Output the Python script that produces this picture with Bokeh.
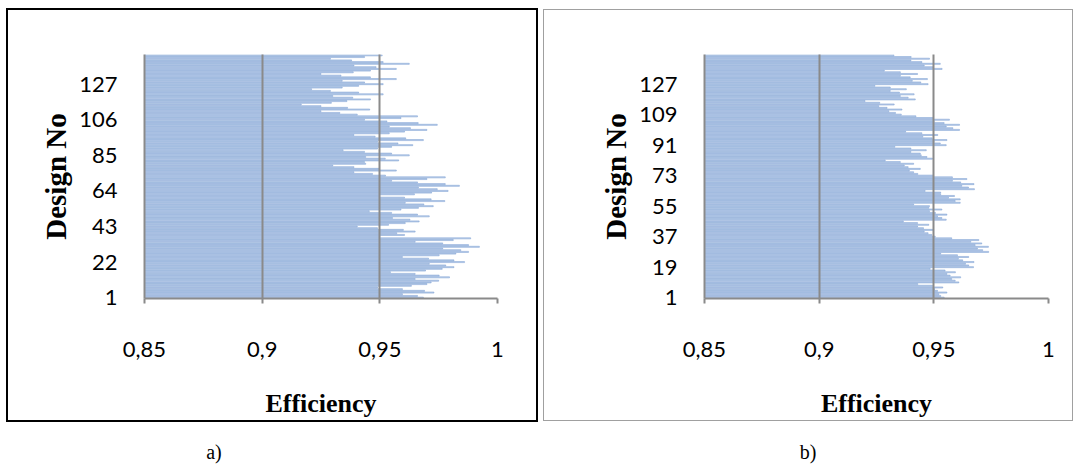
from bokeh.plotting import figure
from bokeh.layouts import row, column
from bokeh.models import FixedTicker, CustomJSTickFormatter, Range1d, Div
from bokeh.embed import file_html
from bokeh.resources import INLINE

# ---------------- data ----------------
# Panel a) efficiency per design (design 144) down to design 1
eff_a_top_down = [
    0.951, 0.9435, 0.929, 0.938, 0.9514, 0.9625, 0.939, 0.9484, 0.957, 0.946,
    0.9387, 0.925, 0.9335, 0.946, 0.957, 0.934, 0.9435, 0.9514, 0.941, 0.934,
    0.921, 0.929, 0.941, 0.9514, 0.930, 0.9385, 0.946, 0.936,
    0.9294, 0.9166, 0.925, 0.9363, 0.9457, 0.925, 0.933, 0.9404, 0.966, 0.959,
    0.9435, 0.953, 0.9663, 0.9744, 0.954, 0.963, 0.970, 0.9605, 0.954, 0.939,
    0.948, 0.961, 0.9685, 0.949, 0.9577, 0.964, 0.955, 0.949, 0.9344, 0.9435,
    0.955, 0.9625, 0.944, 0.9523, 0.958, 0.9435, 0.944, 0.930, 0.939, 0.9496,
    0.957, 0.939, 0.9469, 0.9524, 0.9778, 0.970, 0.955, 0.966, 0.9778, 0.9838,
    0.9664, 0.9744, 0.979, 0.972, 0.9647, 0.95, 0.9605, 0.9718, 0.9776,
    0.9608, 0.9687, 0.9727, 0.9664, 0.959, 0.9455, 0.955, 0.966, 0.971, 0.9554,
    0.9628, 0.9667, 0.9608, 0.9537, 0.9404, 0.949, 0.960, 0.965, 0.9572, 0.9605,
    0.95, 0.9886, 0.9812, 0.965, 0.9767, 0.9877, 0.9923, 0.9767, 0.9844, 0.9877,
    0.9823, 0.9752, 0.9596, 0.9707, 0.9815, 0.986, 0.971, 0.978, 0.9815, 0.9765,
    0.9694, 0.9545, 0.965, 0.9752, 0.9796, 0.965, 0.975, 0.9718, 0.970, 0.9634,
    0.949, 0.9596, 0.969, 0.973, 0.9596, 0.966, 0.9685,
]

# Panel b) efficiency per design, read from the top bar down to design 1
eff_b_top_down = [
    0.9326, 0.9401, 0.9481, 0.940, 0.9448, 0.9528, 0.9458, 0.9496, 0.9536, 0.9284,
    0.9354, 0.9429, 0.9354, 0.9397, 0.9472, 0.9406, 0.9443, 0.9475, 0.9243, 0.931,
    0.938, 0.931, 0.935, 0.9414, 0.9354, 0.9388, 0.9419, 0.920,
    0.9264, 0.9327, 0.926, 0.9296, 0.9361, 0.9304, 0.9333, 0.9358, 0.9422, 0.9496,
    0.9568, 0.9501, 0.9545, 0.9612, 0.9554, 0.9583, 0.9612, 0.9377, 0.9448, 0.9517,
    0.9452, 0.9493, 0.9557, 0.9501, 0.9528, 0.9554, 0.933, 0.940, 0.9467,
    0.940, 0.9441, 0.9445, 0.947, 0.9494, 0.9288, 0.9354, 0.9412, 0.9371, 0.9388,
    0.9441,
    0.9393, 0.9412, 0.943, 0.9499, 0.9581, 0.9644, 0.9581, 0.9617, 0.9675, 0.9622,
    0.9651, 0.9677, 0.9462, 0.953, 0.953, 0.959, 0.9564, 0.9615, 0.9593, 0.9615,
    0.9412, 0.9481, 0.9478, 0.9535, 0.9481, 0.9507, 0.9557, 0.9516, 0.9535, 0.9554,
    0.9367, 0.9429, 0.9478, 0.9429, 0.9455, 0.9499, 0.9458, 0.9475, 0.9491, 0.9506,
    0.9578, 0.9696, 0.9661, 0.9709, 0.968, 0.9738, 0.969, 0.9713, 0.9739, 0.953,
    0.9603, 0.9652, 0.9607, 0.9626, 0.9675, 0.9638, 0.9652, 0.9673, 0.9484, 0.9549,
    0.9594, 0.9557, 0.9571, 0.9617, 0.9578, 0.9593, 0.9609, 0.943, 0.9494, 0.9539,
    0.9503, 0.9516, 0.9557, 0.9522, 0.953, 0.9545,
]

eff_a = eff_a_top_down[::-1]
eff_b = eff_b_top_down[::-1]
design_a = list(range(1, len(eff_a) + 1))
design_b = list(range(1, len(eff_b) + 1))

y_ticks_a = [1, 22, 43, 64, 85, 106, 127]
y_ticks_b = [1, 19, 37, 55, 73, 91, 109, 127]
x_ticks = [0.85, 0.9, 0.95, 1.0]
grid_a = [0.9, 0.95, 1.0]
grid_b = [0.9, 0.95]
x_title = "Efficiency"
y_title = "Design No"
captions = ["a)", "b)"]

# ---------------- styling ----------------
BAR_FILL = "#c3d4ec"
BAR_LINE = "#7c9fd3"
GRID = "#8a8a8a"
TICK_FONT = "Lato"
TITLE_FONT = "Liberation Serif"


def panel(designs, effs, y_ticks, grid_ticks, ml, mr, mt, mb, margin, outline):
    n = len(designs)
    p = figure(width=528, height=410, output_backend="svg", toolbar_location=None,
               x_range=Range1d(0.85, 1.0), y_range=Range1d(0.5, n + 0.5),
               min_border_left=ml, min_border_right=mr,
               min_border_top=mt, min_border_bottom=mb)
    p.margin = margin
    p.styles = {"outline": outline, "outline-offset": "0px"}
    p.outline_line_color = None
    p.background_fill_color = "white"
    p.border_fill_color = "white"

    p.hbar(y=designs, left=0.85, right=effs, height=0.62,
           fill_color=BAR_FILL, line_color=BAR_LINE, line_width=0.55)

    p.ygrid.visible = False
    p.xgrid.ticker = FixedTicker(ticks=grid_ticks)
    p.xgrid.grid_line_color = GRID
    p.xgrid.grid_line_width = 2
    p.xgrid.level = "overlay"

    xa = p.xaxis[0]
    xa.ticker = FixedTicker(ticks=x_ticks)
    xa.formatter = CustomJSTickFormatter(code="return tick.toString().replace('.', ',');")
    xa.axis_line_color = GRID
    xa.axis_line_width = 2
    xa.major_tick_line_color = GRID
    xa.major_tick_line_width = 2
    xa.major_tick_out = 5
    xa.major_tick_in = 0
    xa.minor_tick_line_color = None
    xa.major_label_text_font = TICK_FONT
    xa.major_label_text_font_size = "22px"
    xa.major_label_text_color = "black"
    xa.major_label_standoff = 38
    xa.axis_label = x_title
    xa.axis_label_text_font = TITLE_FONT
    xa.axis_label_text_font_style = "bold"
    xa.axis_label_text_font_size = "26px"
    xa.axis_label_text_color = "black"
    xa.axis_label_standoff = 29

    ya = p.yaxis[0]
    ya.ticker = FixedTicker(ticks=y_ticks)
    ya.axis_line_color = GRID
    ya.axis_line_width = 2
    ya.major_tick_line_color = None
    ya.minor_tick_line_color = None
    ya.major_label_text_font = TICK_FONT
    ya.major_label_text_font_size = "22px"
    ya.major_label_text_color = "black"
    ya.major_label_standoff = 21
    ya.axis_label = y_title
    ya.axis_label_text_font = TITLE_FONT
    ya.axis_label_text_font_style = "bold"
    ya.axis_label_text_font_size = "29px"
    ya.axis_label_text_color = "black"
    ya.axis_label_standoff = 4
    return p


pa = panel(design_a, eff_a, y_ticks_a, grid_a, 136, 39, 44, 122,
           (10, 0, 0, 8), "2px solid black")
pb = panel(design_b, eff_b, y_ticks_b, grid_b, 160, 24, 42, 122,
           (10, 0, 0, 8), "1px solid #a0a0a0")

cap_style = {"font-family": "Liberation Serif", "font-size": "20px",
             "color": "black", "text-align": "center", "line-height": "24px"}
da = Div(text=captions[0], width=60, height=30, margin=(20, 0, 0, 184), styles=cap_style)
db = Div(text=captions[1], width=60, height=30, margin=(20, 0, 0, 534), styles=cap_style)

layout = column(row(pa, pb), row(da, db))
open("out.html", "w").write(file_html(layout, INLINE))
